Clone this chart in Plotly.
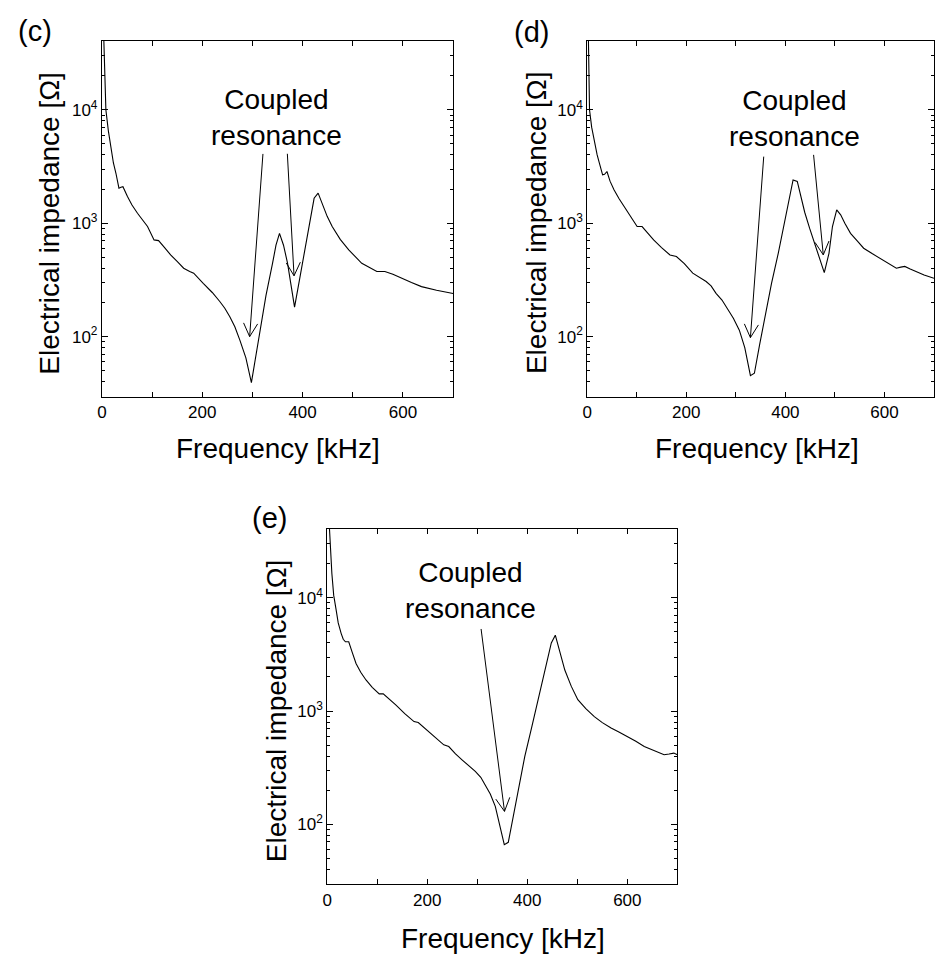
import math
import plotly.graph_objects as go

# ---- Impedance spectra (frequency in kHz, |Z| in ohm) ----
c_freq = [2, 5, 8, 13, 18, 23, 28, 34, 38, 42, 51, 60, 71, 81, 91, 104, 113, 125,
          137, 150, 163, 175, 183, 202, 220, 235, 245, 255, 265, 275, 287, 298,
          312, 327, 340, 347, 354, 362, 370, 377, 384, 394, 403, 413, 423, 431,
          439, 449, 459, 475, 492, 518, 548, 564, 580, 597, 617, 637, 667, 700]
c_imp = [80000, 20000, 10000, 6500, 4440, 3400, 2760, 2040, 2080, 2100, 1720, 1450,
         1225, 1060, 935, 713, 703, 610, 525, 460, 401, 375, 363, 295, 245, 204,
         178, 150, 122, 93, 65, 39.3, 95, 230, 440, 640, 815, 640, 445, 290, 182,
         320, 533, 910, 1660, 1842, 1500, 1150, 935, 720, 582, 443, 375, 375, 355,
         327, 300, 276, 256, 240]

d_freq = [1, 4.6, 9, 14.6, 20, 24.5, 31, 35, 39.8, 46, 54, 64, 74, 87, 100.7, 110.7,
          122, 134, 150, 167, 180, 196, 213, 227, 240, 250, 260, 272, 283, 295, 307,
          318, 329.4, 337.4, 348, 359, 372, 385.7, 400, 415.5, 424, 431, 439, 449,
          458.6, 468, 478.5, 488, 495, 503.6, 511.6, 520, 531.5, 545, 558, 575, 591,
          607, 624, 633, 641, 652, 664, 680, 700]
d_imp = [100000, 10000, 7000, 5080, 4000, 3390, 2670, 2700, 2860, 2350, 1970, 1650,
         1403, 1140, 935, 935, 820, 713, 610, 525, 508, 440, 363, 330, 306, 280, 241,
         210, 178, 145, 114, 80, 45.3, 47.5, 85, 155, 295, 545, 1110, 2410, 2340,
         1700, 1250, 900, 664, 500, 367, 543, 935, 1313, 1186, 1000, 815, 700, 602,
         540, 490, 445, 401, 410, 416, 395, 375, 350, 327]

e_freq = [2, 4.6, 9.3, 13, 17.9, 22, 27.8, 32, 36.4, 43, 50, 57.6, 67, 77.5, 90, 104,
          112, 125, 137, 155, 173.5, 182, 203, 218, 233, 243, 256, 269.5, 283, 296,
          307, 316, 326, 336, 345, 354, 362, 375, 395, 409, 422, 435, 448, 456, 465,
          475, 488, 501, 517, 534, 550, 567.5, 584, 600.6, 617, 633.8, 653, 673.5,
          683.4, 693, 700]
e_imp = [100000, 40000, 16400, 10500, 7770, 6000, 4850, 4300, 4090, 4090, 3300, 2630,
         2200, 1880, 1620, 1416, 1416, 1270, 1133, 950, 807, 792, 661, 575, 503, 486,
         420, 371, 330, 293, 260, 224, 185, 144, 100, 66, 69.3, 138, 398, 725, 1260,
         2240, 3990, 4680, 3300, 2300, 1650, 1260, 1050, 893, 790, 707, 650, 596,
         540, 486, 445, 411, 417, 425, 411]

x_ticks = [0, 200, 400, 600]
y_ticks = [100, 1000, 10000]
y_ticktext = ["10<sup>2</sup>", "10<sup>3</sup>", "10<sup>4</sup>"]
y_minor = [m * 10 ** p for p in (1, 2, 3, 4) for m in range(2, 10)]

panel_labels = ["(c)", "(d)", "(e)"]
x_title = "Frequency [kHz]"
y_title = "Electrical impedance [Ω]"
note_text = "Coupled<br>resonance"

# arrow heads: (panel index, frequency, impedance) and tail offset in px
arrow_panel = [0, 0, 1, 1, 2]
arrow_freq = [294.5, 383, 329.4, 476.5, 354.4]
arrow_imp = [100, 344, 98, 526, 130]
arrow_tail = [(13.3, -182.7), (-6.7, -122), (13.3, -181), (-9.7, -100),
              (-23.4, -182.4)]

# ---- Page layout (pixels) ----
W, H = 935, 956
FONT = "Liberation Sans, Arial, sans-serif"


def px_x(p):
    return p / W


def px_y(p):
    return 1 - p / H


# plot frames: (left, right, top, bottom) in pixels
frames = [(97.5, 451, 40.7, 396.7),
          (586, 935, 40.7, 396.7),
          (324.3, 676.7, 528.7, 884.3)]

fig = go.Figure()
series = [(c_freq, c_imp), (d_freq, d_imp), (e_freq, e_imp)]
axis_ids = [("x", "y"), ("x2", "y2"), ("x3", "y3")]

for (fx, fy), (xa, ya) in zip(series, axis_ids):
    fig.add_trace(go.Scatter(x=fx, y=fy, mode="lines", xaxis=xa, yaxis=ya,
                             line=dict(color="black", width=1.1),
                             showlegend=False, hoverinfo="skip"))

layout = dict(width=W, height=H, margin=dict(l=0, r=0, t=0, b=0),
              paper_bgcolor="white", plot_bgcolor="white",
              font=dict(family=FONT, color="black"), showlegend=False)

for i, (l, r, t, b) in enumerate(frames):
    sfx = "" if i == 0 else str(i + 1)
    layout["xaxis" + sfx] = dict(
        domain=[px_x(l), px_x(r)], range=[0, 700], anchor="y" + sfx,
        tickvals=x_ticks, ticks="inside", ticklen=5, tickwidth=1,
        tickcolor="black", showline=True, linecolor="black", linewidth=1,
        mirror="ticks", showgrid=False, zeroline=False,
        tickfont=dict(size=17, family=FONT, color="black"),
        minor=dict(dtick=100, ticks="inside", ticklen=5, tickcolor="black",
                   showgrid=False))
    layout["yaxis" + sfx] = dict(
        domain=[px_y(b), px_y(t)], type="log", range=[1.47, 4.61],
        anchor="x" + sfx, tickvals=y_ticks, ticktext=y_ticktext,
        ticks="inside", ticklen=6, tickwidth=1, tickcolor="black",
        showline=True, linecolor="black", linewidth=1, mirror="ticks",
        showgrid=False, zeroline=False,
        tickfont=dict(size=17, family=FONT, color="black"),
        minor=dict(tickvals=y_minor, ticks="inside", ticklen=3,
                   tickcolor="black", showgrid=False))

fig.update_layout(**layout)

annotations = []


def text_at(txt, px, py, size, angle=0):
    annotations.append(dict(text=txt, x=px_x(px), y=px_y(py), xref="paper",
                            yref="paper", showarrow=False, textangle=angle,
                            xanchor="center", yanchor="middle",
                            font=dict(size=size, family=FONT, color="black")))


# panel labels, axis titles and notes
label_pos = [(30.5, 31.5), (530, 32), (266, 518)]
xtitle_pos = [(275, 448), (757, 448), (501.7, 938)]
ytitle_pos = [(45, 223), (535.5, 223), (273, 711)]
note_pos = [(273.3, 117.2), (795, 118.3), (468.5, 590.8)]
for i in range(3):
    text_at(panel_labels[i], *label_pos[i], 29)
    text_at(x_title, *xtitle_pos[i], 28)
    text_at(y_title, *ytitle_pos[i], 28, angle=-90)
    text_at(note_text, *note_pos[i], 28)

fig.update_layout(annotations=annotations)

# open "V" arrows drawn as pixel-sized paths anchored at the head point
BARB_LEN = 15
BARB_ANG = math.radians(28)

shapes = []
for k in range(len(arrow_freq)):
    xa, ya = axis_ids[arrow_panel[k]]
    tx, ty = arrow_tail[k]
    n = math.hypot(tx, ty)
    ux, uy = tx / n, ty / n
    barbs = []
    for s in (1, -1):
        ca, sa = math.cos(s * BARB_ANG), math.sin(s * BARB_ANG)
        barbs.append(((ux * ca - uy * sa) * BARB_LEN,
                      (ux * sa + uy * ca) * BARB_LEN))
    # pixel-mode path: y grows upward, so screen offsets are negated
    path = (f"M{tx:.2f},{-ty:.2f} L0,0 "
            f"M{barbs[0][0]:.2f},{-barbs[0][1]:.2f} L0,0 "
            f"L{barbs[1][0]:.2f},{-barbs[1][1]:.2f}")
    shapes.append(dict(type="path", xref=xa, yref=ya,
                       xsizemode="pixel", ysizemode="pixel",
                       xanchor=arrow_freq[k], yanchor=arrow_imp[k],
                       path=path, line=dict(color="black", width=1)))

fig.update_layout(shapes=shapes)
fig.write_html("out.html")
